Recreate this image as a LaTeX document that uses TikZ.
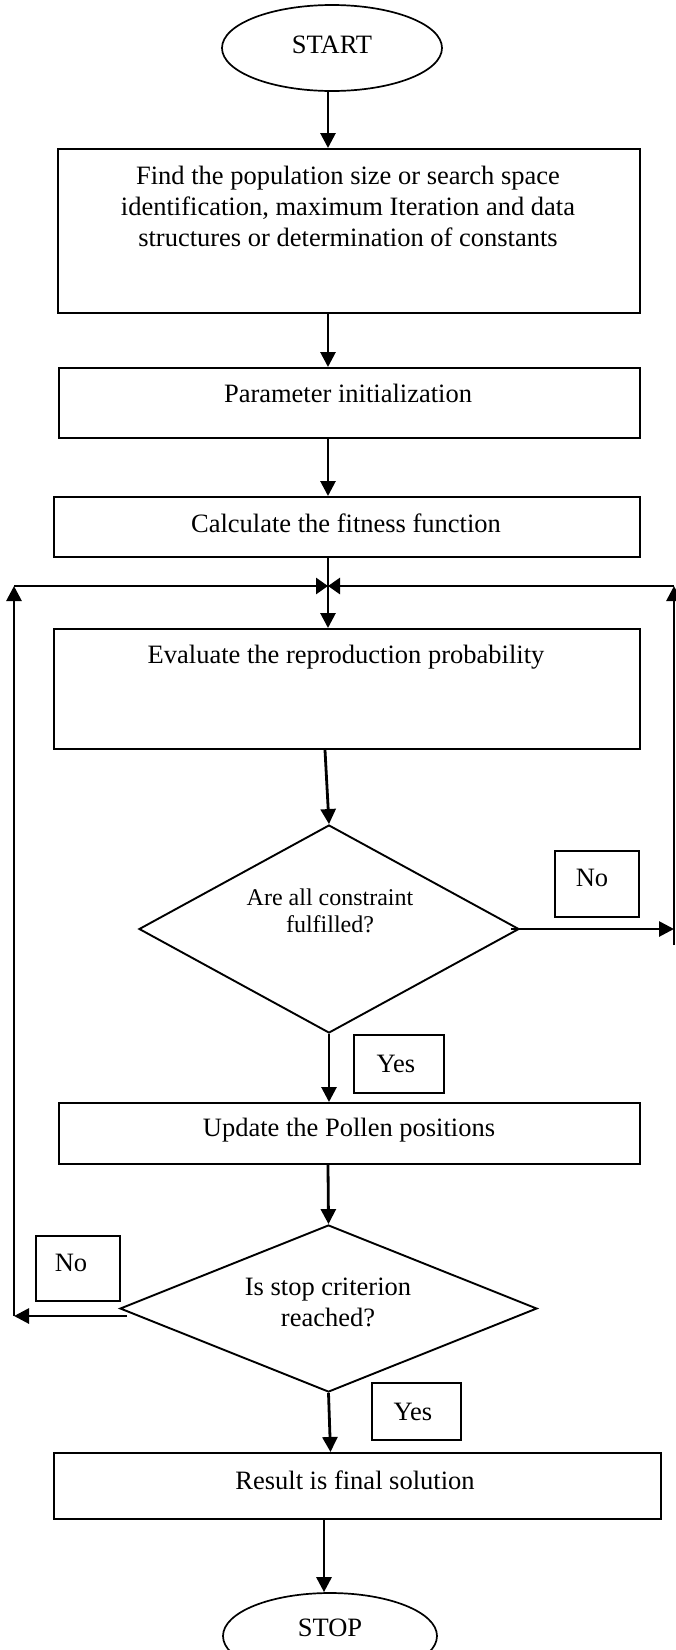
\documentclass[tikz,border=0pt]{standalone}
\usepackage{fontspec}
\setmainfont{Liberation Serif}
\usetikzlibrary{arrows.meta,shapes.geometric}
\begin{document}
\begin{tikzpicture}[x=1pt,y=-1pt,
  box/.style={draw,line width=2pt,rectangle,inner sep=0pt,anchor=north west},
  lbl/.style={draw,line width=1.5pt,rectangle,inner sep=0pt,anchor=north west},
  term/.style={draw,line width=1.7pt,ellipse,inner sep=0pt,minimum height=86pt},
  dec/.style={draw,line width=1.9pt,diamond,inner sep=0pt},
  txt/.style={inner sep=0pt,align=center,font=\fontsize{26.5}{31}\selectfont},
  stxt/.style={inner sep=0pt,align=center,font=\fontsize{24}{27}\selectfont},
  arr/.style={line width=2.8pt,-{Triangle[length=15pt,width=15pt]}},
  jarr/.style={line width=2.8pt,-{Triangle[length=12pt,width=16pt]}},
  ln/.style={line width=2.8pt},
]
\useasboundingbox (0,0) rectangle (676,1650);
\clip (0,0) rectangle (676,1650);

% axis and loop coordinates
\coordinate (ax) at (328,0);
\coordinate (J) at (328,586);
\coordinate (R) at (674,586);
\coordinate (L) at (14,586);
\coordinate (Rb) at (674,945);
\coordinate (Lb) at (14,1316);

% terminals
\node[term,minimum width=220pt] (start) at (332,48) {};
\node[txt] (tstart) at (332,45) {START};
\node[term,minimum width=214pt] (stop) at (330,1636) {};
\node[txt] (tstop) at (330,1628) {STOP};

% process boxes
\node[box,minimum width=582pt,minimum height=164pt] (b1) at (57,148) {};
\node[txt] (t1) at (348,206) {Find the population size or search space\\identification, maximum Iteration and data\\structures or determination of constants};
\node[box,minimum width=581pt,minimum height=70pt] (b2) at (58,367) {};
\node[txt] (t2) at (348,393) {Parameter initialization};
\node[box,minimum width=586pt,minimum height=60pt] (b3) at (53,496) {};
\node[txt] (t3) at (346,523) {Calculate the fitness function};
\node[box,minimum width=586pt,minimum height=120pt] (b4) at (53,628) {};
\node[txt] (t4) at (346,657) {Evaluate the reproduction probability};
\node[box,minimum width=581pt,minimum height=61pt] (b5) at (58,1102) {};
\node[txt] (t5) at (349,1130) {Update the Pollen positions};
\node[box,minimum width=607pt,minimum height=66pt] (b6) at (53,1452) {};
\node[txt] (t6) at (355,1480) {Result is final solution};

% decisions
\node[dec,minimum width=380pt,minimum height=208pt] (d1) at (329,929) {};
\node[stxt] (td1) at (330,911) {Are all constraint\\fulfilled?};
\node[dec,minimum width=417pt,minimum height=167pt] (d2) at (328.5,1308.5) {};
\node[txt] (td2) at (328,1302) {Is stop criterion\\reached?};

% yes / no labels
\node[lbl,minimum width=84pt,minimum height=66pt] (no1) at (554,850) {};
\node[txt] (tno1) at (592,878) {No};
\node[lbl,minimum width=90pt,minimum height=58pt] (yes1) at (353,1034) {};
\node[txt] (tyes1) at (396,1064) {Yes};
\node[lbl,minimum width=84pt,minimum height=65pt] (no2) at (35,1235) {};
\node[txt] (tno2) at (71,1263) {No};
\node[lbl,minimum width=89pt,minimum height=57pt] (yes2) at (371,1382) {};
\node[txt] (tyes2) at (413,1412) {Yes};

% main flow
\draw[arr] (start.south -| ax) -- (ax |- b1.north);
\draw[arr] (ax |- b1.south) -- (ax |- b2.north);
\draw[arr] (ax |- b2.south) -- (ax |- b3.north);
\draw[ln] (ax |- b3.south) -- (J);
\draw[arr] (J) -- (ax |- b4.north);
\draw[arr] ([xshift=-3pt]ax |- b4.south) -- (d1.north);
\draw[arr] (d1.south) -- (d1.south |- b5.north);
\draw[arr] (ax |- b5.south) -- (d2.north);
\draw[arr] (d2.south) -- ([xshift=2pt]d2.south |- b6.north);
\draw[arr] ([xshift=-6pt]stop.north |- b6.south) -- ([xshift=-6pt]stop.north);

% "No" loop on the right
\draw[arr] ([xshift=-9pt]d1.east) -- (d1.east -| R);
\draw[arr] (Rb) -- (R);
\draw[jarr] (R) -- (J);

% "No" loop on the left
\draw[arr] ([xshift=8pt]d2.west |- Lb) -- (Lb);
\draw[arr] (Lb) -- (L);
\draw[jarr] (L) -- (J);
\end{tikzpicture}
\end{document}
